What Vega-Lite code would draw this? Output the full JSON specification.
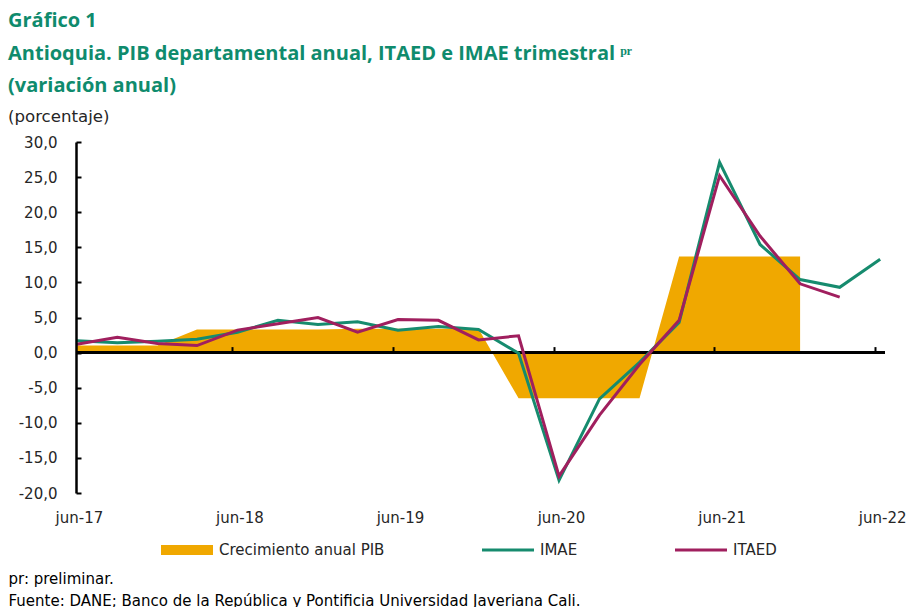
{
  "$schema": "https://vega.github.io/schema/vega-lite/v6.json",
  "width": 809,
  "height": 351,
  "autosize": {"type": "none"},
  "padding": {"left": 76, "top": 142, "right": 21, "bottom": 114},
  "background": "white",
  "title": {
    "text": ["Gráfico 1", "Antioquia. PIB departamental anual, ITAED e IMAE trimestral ᵖʳ", "(variación anual)"],
    "subtitle": "\u00a0(porcentaje)",
    "anchor": "start",
    "frame": "group",
    "dx": -68,
    "offset": 9,
    "font": "Open Sans",
    "fontSize": 20,
    "fontWeight": "bold",
    "color": "#0F8B6D",
    "lineHeight": 32.5,
    "subtitleFont": "DejaVu Sans",
    "subtitleFontSize": 16.6,
    "subtitleColor": "#262626",
    "subtitlePadding": 13,
    "subtitleLineHeight": 18
  },
  "data": {
    "values": [
      {"fecha": "2017-06-01", "PIB": 1.0, "IMAE": 1.7, "ITAED": 1.2},
      {"fecha": "2017-09-01", "PIB": 1.0, "IMAE": 1.4, "ITAED": 2.2},
      {"fecha": "2017-12-01", "PIB": 1.0, "IMAE": 1.6, "ITAED": 1.3},
      {"fecha": "2018-03-01", "PIB": 3.3, "IMAE": 1.9, "ITAED": 1.0},
      {"fecha": "2018-06-01", "PIB": 3.3, "IMAE": 2.9, "ITAED": 3.2},
      {"fecha": "2018-09-01", "PIB": 3.3, "IMAE": 4.6, "ITAED": 4.1},
      {"fecha": "2018-12-01", "PIB": 3.3, "IMAE": 4.0, "ITAED": 5.0},
      {"fecha": "2019-03-01", "PIB": 3.4, "IMAE": 4.4, "ITAED": 2.9},
      {"fecha": "2019-06-01", "PIB": 3.4, "IMAE": 3.2, "ITAED": 4.7},
      {"fecha": "2019-09-01", "PIB": 3.4, "IMAE": 3.7, "ITAED": 4.6},
      {"fecha": "2019-12-01", "PIB": 3.4, "IMAE": 3.3, "ITAED": 1.8},
      {"fecha": "2020-03-01", "PIB": -6.5, "IMAE": -0.1, "ITAED": 2.4},
      {"fecha": "2020-06-01", "PIB": -6.5, "IMAE": -18.2, "ITAED": -17.6},
      {"fecha": "2020-09-01", "PIB": -6.5, "IMAE": -6.6, "ITAED": -8.9},
      {"fecha": "2020-12-01", "PIB": -6.5, "IMAE": -1.4, "ITAED": -1.7},
      {"fecha": "2021-03-01", "PIB": 13.7, "IMAE": 4.3, "ITAED": 4.6},
      {"fecha": "2021-06-01", "PIB": 13.7, "IMAE": 27.1, "ITAED": 25.2},
      {"fecha": "2021-09-01", "PIB": 13.7, "IMAE": 15.4, "ITAED": 16.6},
      {"fecha": "2021-12-01", "PIB": 13.7, "IMAE": 10.4, "ITAED": 9.8},
      {"fecha": "2022-03-01", "PIB": null, "IMAE": 9.3, "ITAED": 7.9},
      {"fecha": "2022-06-01", "PIB": null, "IMAE": 13.3, "ITAED": null}
    ]
  },
  "layer": [
    {
      "mark": {"type": "area", "opacity": 1, "interpolate": "linear"},
      "encoding": {
        "x": {
          "field": "fecha",
          "type": "temporal",
          "scale": {"type": "utc", "domain": [{"year": 2017, "month": 5, "date": 30, "utc": true}, {"year": 2022, "month": 6, "date": 12, "utc": true}]},
          "title": ["pr: preliminar.", "Fuente: DANE; Banco de la República y Pontificia Universidad Javeriana Cali."],
          "axis": {
            "orient": "bottom",
            "values": [
              {"year": 2017, "month": 6, "date": 1, "utc": true},
              {"year": 2018, "month": 6, "date": 1, "utc": true},
              {"year": 2019, "month": 6, "date": 1, "utc": true},
              {"year": 2020, "month": 6, "date": 1, "utc": true},
              {"year": 2021, "month": 6, "date": 1, "utc": true},
              {"year": 2022, "month": 6, "date": 1, "utc": true}
            ],
            "labelExpr": "'jun-' + utcFormat(datum.value, '%y')",
            "labelFlush": false,
            "labelOverlap": false,
            "labelOffset": 2,
            "domain": false,
            "ticks": false,
            "grid": false,
            "labelPadding": 17,
            "labelFont": "DejaVu Sans",
            "labelFontSize": 15,
            "labelColor": "#262626",
            "titleX": -68,
            "titleY": 90,
            "titleAlign": "left",
            "titleAngle": 0,
            "titleBaseline": "alphabetic",
            "titleFont": "DejaVu Sans",
            "titleFontSize": 15,
            "titleFontWeight": "normal",
            "titleColor": "#000000",
            "titleLineHeight": 22,
            "titleLimit": 0
          }
        },
        "y": {
          "field": "PIB",
          "type": "quantitative",
          "scale": {"domain": [-20, 30], "nice": false, "zero": false},
          "title": null,
          "axis": {
            "values": [-20, -15, -10, -5, 0, 5, 10, 15, 20, 25, 30],
            "labelExpr": "datum.value < 0 ? '-' + replace(format(-datum.value, '.1f'), '.', ',') : replace(format(datum.value, '.1f'), '.', ',')",
            "labelOverlap": false,
            "grid": false,
            "domainColor": "#000000",
            "domainWidth": 2.5,
            "tickColor": "#000000",
            "tickWidth": 2,
            "tickSize": -5,
            "labelPadding": 24,
            "labelFont": "DejaVu Sans",
            "labelFontSize": 15,
            "labelColor": "#262626",
            "zindex": 1
          }
        },
        "color": {
          "datum": "Crecimiento anual PIB",
          "scale": {"domain": ["Crecimiento anual PIB", "IMAE", "ITAED"], "range": ["#F0A800", "#168B6E", "#A01F5E"]},
          "legend": {
            "orient": "none",
            "legendX": 85,
            "legendY": 382,
            "direction": "horizontal",
            "title": null,
            "symbolType": "M-1,-0.19H1V0.19H-1Z",
            "symbolSize": 2704,
            "symbolStrokeWidth": 0,
            "symbolOpacity": 1,
            "labelFont": "DejaVu Sans",
            "labelFontSize": 15,
            "labelColor": "#262626",
            "labelOffset": 6,
            "columnPadding": 97,
            "labelLimit": 300,
            "padding": 0,
            "encode": {
              "symbols": {
                "update": {
                  "shape": {"signal": "datum.value === 'Crecimiento anual PIB' ? 'M-1,-0.19H1V0.19H-1Z' : 'M-1,-0.058H1V0.058H-1Z'"},
                  "fill": {"signal": "scale('color', datum.value)"},
                  "strokeWidth": {"value": 0},
                  "opacity": {"value": 1}
                }
              }
            }
          }
        }
      }
    },
    {
      "mark": {"type": "rule", "color": "#000000", "strokeWidth": 2.5},
      "encoding": {
        "y": {
          "datum": 0,
          "type": "quantitative",
          "scale": {"domain": [-20, 30], "nice": false, "zero": false},
          "title": null,
          "axis": {
            "values": [-20, -15, -10, -5, 0, 5, 10, 15, 20, 25, 30],
            "labelExpr": "datum.value < 0 ? '-' + replace(format(-datum.value, '.1f'), '.', ',') : replace(format(datum.value, '.1f'), '.', ',')",
            "labelOverlap": false,
            "grid": false,
            "domainColor": "#000000",
            "domainWidth": 2.5,
            "tickColor": "#000000",
            "tickWidth": 2,
            "tickSize": -5,
            "labelPadding": 24,
            "labelFont": "DejaVu Sans",
            "labelFontSize": 15,
            "labelColor": "#262626",
            "zindex": 1
          }
        }
      }
    },
    {
      "transform": [{"fold": ["IMAE", "ITAED"], "as": ["serie", "valor"]}],
      "mark": {"type": "line", "strokeWidth": 3, "interpolate": "linear"},
      "encoding": {
        "x": {
          "field": "fecha",
          "type": "temporal",
          "scale": {"type": "utc", "domain": [{"year": 2017, "month": 5, "date": 30, "utc": true}, {"year": 2022, "month": 6, "date": 12, "utc": true}]},
          "title": null,
          "axis": {
            "orient": "top",
            "offset": -210.6,
            "values": [
              {"year": 2018, "month": 6, "date": 1, "utc": true},
              {"year": 2019, "month": 6, "date": 1, "utc": true},
              {"year": 2020, "month": 6, "date": 1, "utc": true},
              {"year": 2021, "month": 6, "date": 1, "utc": true},
              {"year": 2022, "month": 6, "date": 1, "utc": true}
            ],
            "labels": false,
            "domain": false,
            "ticks": true,
            "tickSize": 6,
            "tickWidth": 2,
            "tickColor": "#000000",
            "tickOffset": -5.5,
            "grid": false,
            "zindex": 1
          }
        },
        "y": {
          "field": "valor",
          "type": "quantitative",
          "scale": {"domain": [-20, 30], "nice": false, "zero": false},
          "title": null,
          "axis": {
            "values": [-20, -15, -10, -5, 0, 5, 10, 15, 20, 25, 30],
            "labelExpr": "datum.value < 0 ? '-' + replace(format(-datum.value, '.1f'), '.', ',') : replace(format(datum.value, '.1f'), '.', ',')",
            "labelOverlap": false,
            "grid": false,
            "domainColor": "#000000",
            "domainWidth": 2.5,
            "tickColor": "#000000",
            "tickWidth": 2,
            "tickSize": -5,
            "labelPadding": 24,
            "labelFont": "DejaVu Sans",
            "labelFontSize": 15,
            "labelColor": "#262626",
            "zindex": 1
          }
        },
        "color": {
          "field": "serie",
          "type": "nominal",
          "title": null,
          "legend": {
            "orient": "none",
            "legendX": 85,
            "legendY": 382,
            "direction": "horizontal",
            "title": null,
            "symbolType": "M-1,-0.19H1V0.19H-1Z",
            "symbolSize": 2704,
            "symbolStrokeWidth": 0,
            "symbolOpacity": 1,
            "labelFont": "DejaVu Sans",
            "labelFontSize": 15,
            "labelColor": "#262626",
            "labelOffset": 6,
            "columnPadding": 97,
            "labelLimit": 300,
            "padding": 0,
            "encode": {
              "symbols": {
                "update": {
                  "shape": {"signal": "datum.value === 'Crecimiento anual PIB' ? 'M-1,-0.19H1V0.19H-1Z' : 'M-1,-0.058H1V0.058H-1Z'"},
                  "fill": {"signal": "scale('color', datum.value)"},
                  "strokeWidth": {"value": 0},
                  "opacity": {"value": 1}
                }
              }
            }
          }
        }
      }
    }
  ],
  "resolve": {"axis": {"x": "independent"}},
  "config": {"view": {"stroke": null}}
}
